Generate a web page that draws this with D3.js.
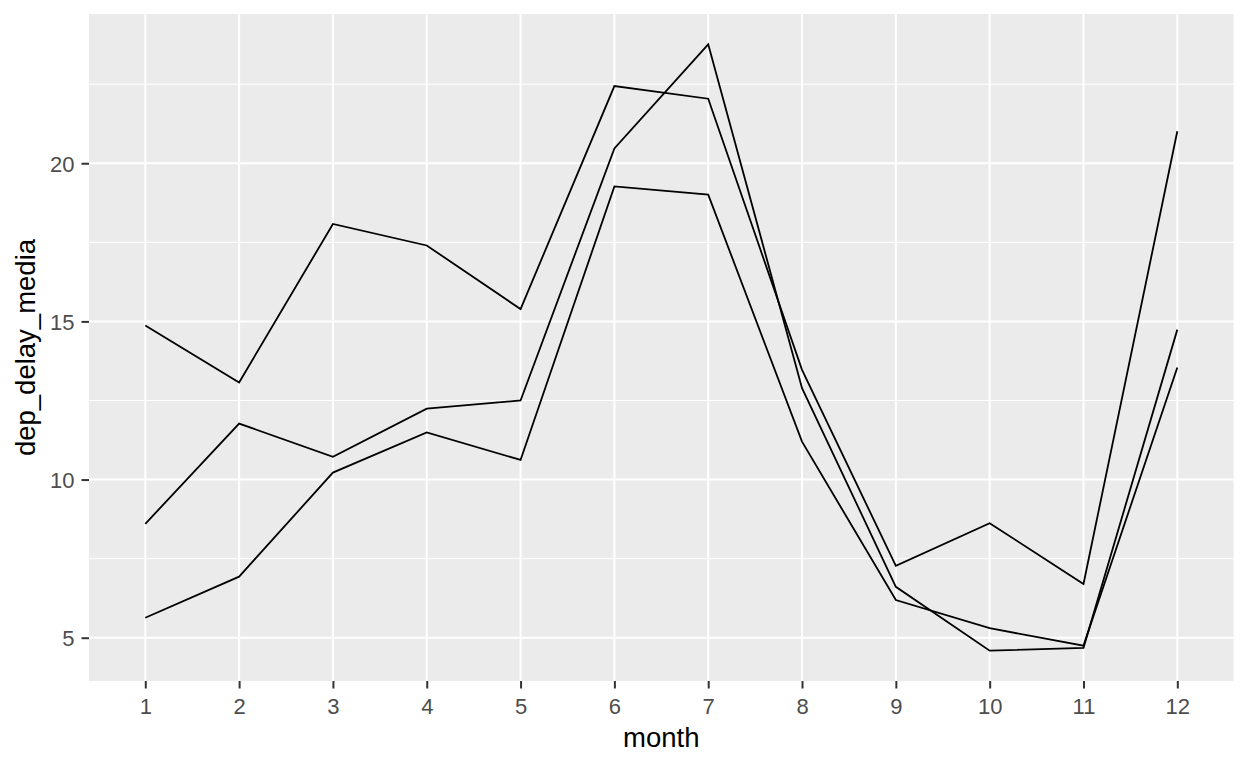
<!DOCTYPE html>
<html>
<head>
<meta charset="utf-8">
<script src="https://cdn.jsdelivr.net/npm/d3@7"></script>
<style>
  html, body { margin: 0; padding: 0; background: #fff; }
  svg { display: block; }
</style>
</head>
<body>
<div id="chart"></div>
<script>
/* mean departure delay per month, three groups, ggplot-style grey panel */

var months = ['1', '2', '3', '4', '5', '6', '7', '8', '9', '10', '11', '12'];
var serieA = [14.87, 13.07, 18.08, 17.40, 15.39, 22.44, 22.04, 13.47, 7.27, 8.62, 6.70, 21.01];
var serieB = [8.60, 11.77, 10.72, 12.24, 12.50, 20.47, 23.76, 12.89, 6.61, 4.59, 4.68, 14.74];
var serieC = [5.63, 6.93, 10.22, 11.49, 10.62, 19.27, 19.01, 11.20, 6.19, 5.30, 4.75, 13.54];
var yTicks = [5, 10, 15, 20];
var yMinor = [7.5, 12.5, 17.5, 22.5];

(function drawChart() {
  var W = 1248, H = 768;
  var panel = { left: 89, right: 1233.6, top: 14, bottom: 681 };
  var font = '"Liberation Sans", Arial, sans-serif';

  var svg = d3.select('#chart').append('svg')
    .attr('width', W).attr('height', H);

  var series = [serieA, serieB, serieC];
  var all = d3.merge(series);
  var ext = d3.extent(all);
  var pad = (ext[1] - ext[0]) * 0.05;

  var x = d3.scalePoint()
    .domain(months)
    .range([panel.left, panel.right])
    .padding(0.6);

  var y = d3.scaleLinear()
    .domain([ext[0] - pad, ext[1] + pad])
    .range([panel.bottom, panel.top]);

  /* ── panel background ── */
  svg.append('rect')
    .attr('x', panel.left).attr('y', panel.top)
    .attr('width', panel.right - panel.left)
    .attr('height', panel.bottom - panel.top)
    .attr('fill', '#ebebeb');

  /* ── grid ── */
  var g = svg.append('g');
  g.selectAll('line.minor').data(yMinor).enter().append('line')
    .attr('x1', panel.left).attr('x2', panel.right)
    .attr('y1', function (d) { return y(d); })
    .attr('y2', function (d) { return y(d); })
    .attr('stroke', '#fff').attr('stroke-width', 1);

  g.selectAll('line.hmajor').data(yTicks).enter().append('line')
    .attr('x1', panel.left).attr('x2', panel.right)
    .attr('y1', function (d) { return y(d); })
    .attr('y2', function (d) { return y(d); })
    .attr('stroke', '#fff').attr('stroke-width', 2);

  g.selectAll('line.vmajor').data(months).enter().append('line')
    .attr('y1', panel.top).attr('y2', panel.bottom)
    .attr('x1', function (d) { return x(d); })
    .attr('x2', function (d) { return x(d); })
    .attr('stroke', '#fff').attr('stroke-width', 2);

  /* ── lines ── */
  var line = d3.line()
    .x(function (d, i) { return x(months[i]); })
    .y(function (d) { return y(d); });

  svg.selectAll('path.serie').data(series).enter().append('path')
    .attr('d', line)
    .attr('fill', 'none')
    .attr('stroke', '#000')
    .attr('stroke-width', 1.8)
    .attr('stroke-linejoin', 'miter');

  /* ── axes ── */
  var xAxis = d3.axisBottom(x).tickSize(7.5).tickPadding(4);
  var gx = svg.append('g')
    .attr('transform', 'translate(0,' + panel.bottom + ')')
    .call(xAxis);

  var yAxis = d3.axisLeft(y).tickValues(yTicks).tickSize(7.5).tickPadding(7);
  var gy = svg.append('g')
    .attr('transform', 'translate(' + panel.left + ',0)')
    .call(yAxis);

  [gx, gy].forEach(function (ax) {
    ax.select('.domain').remove();
    ax.selectAll('.tick line').attr('stroke', '#333').attr('stroke-width', 2);
    ax.selectAll('.tick text')
      .attr('fill', '#4d4d4d')
      .style('font-family', font)
      .style('font-size', '22px');
  });
  gx.selectAll('.tick text').attr('dy', null).attr('y', 33);
  gy.selectAll('.tick text').attr('dy', '0.36em');

  /* ── axis titles ── */
  svg.append('text')
    .attr('x', (panel.left + panel.right) / 2).attr('y', 747)
    .attr('text-anchor', 'middle')
    .style('font-family', font).style('font-size', '27.5px')
    .attr('fill', '#000')
    .text('month');

  svg.append('text')
    .attr('transform', 'translate(35,' + (panel.top + panel.bottom) / 2 + ') rotate(-90)')
    .attr('text-anchor', 'middle')
    .style('font-family', font).style('font-size', '27.5px')
    .attr('fill', '#000')
    .text('dep_delay_media');
}());
</script>
</body>
</html>
